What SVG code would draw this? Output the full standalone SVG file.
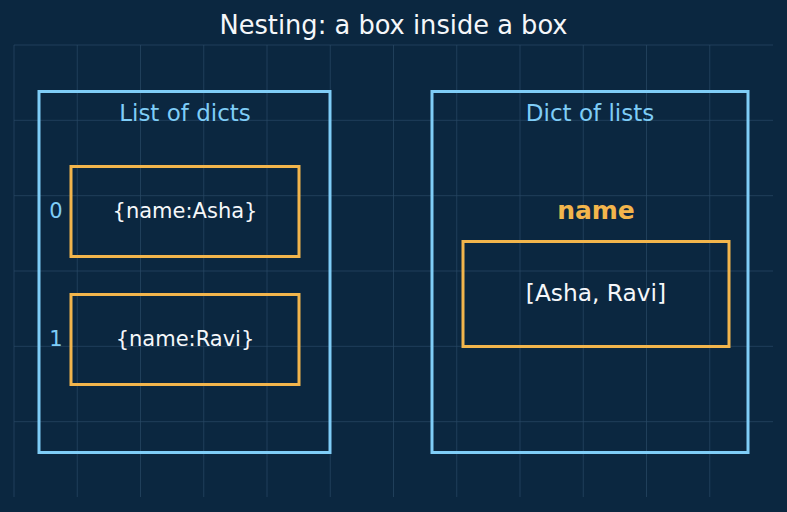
<svg xmlns="http://www.w3.org/2000/svg" width="787" height="512" viewBox="0 0 787 512">
<style>
.grid line{stroke:#2a4a66;stroke-width:1;opacity:0.7}
.outer{fill:none;stroke:#7fcdf7;stroke-width:3}
.inner{fill:none;stroke:#f2b54c;stroke-width:3}
text{font-family:"DejaVu Sans","Liberation Sans",sans-serif;text-anchor:middle}
.title{fill:#f5f7fa;font-size:25.7px}
.hdr{fill:#7fcdf7;font-size:23px}
.idx{fill:#7fcdf7;font-size:21px}
.val{fill:#f5f7fa;font-size:21px}
.key{fill:#f2b54c;font-size:25px;font-weight:bold}
</style>
<rect width="787" height="512" fill="#0b2740"/>
<g class="grid">
<line x1="14" y1="45" x2="14" y2="497"/>
<line x1="77.25" y1="45" x2="77.25" y2="497"/>
<line x1="140.5" y1="45" x2="140.5" y2="497"/>
<line x1="203.75" y1="45" x2="203.75" y2="497"/>
<line x1="267" y1="45" x2="267" y2="497"/>
<line x1="330.25" y1="45" x2="330.25" y2="497"/>
<line x1="393.5" y1="45" x2="393.5" y2="497"/>
<line x1="456.75" y1="45" x2="456.75" y2="497"/>
<line x1="520" y1="45" x2="520" y2="497"/>
<line x1="583.25" y1="45" x2="583.25" y2="497"/>
<line x1="646.5" y1="45" x2="646.5" y2="497"/>
<line x1="709.75" y1="45" x2="709.75" y2="497"/>
<line x1="14" y1="45" x2="773" y2="45"/>
<line x1="14" y1="120.3" x2="773" y2="120.3"/>
<line x1="14" y1="195.7" x2="773" y2="195.7"/>
<line x1="14" y1="271" x2="773" y2="271"/>
<line x1="14" y1="346.3" x2="773" y2="346.3"/>
<line x1="14" y1="421.7" x2="773" y2="421.7"/>
</g>
<text class="title" x="393.5" y="34">Nesting: a box inside a box</text>
<g id="list-of-dicts">
<rect class="outer" x="39" y="91.5" width="291" height="361"/>
<text class="hdr" x="185" y="121">List of dicts</text>
</g>
<g id="item-0">
<rect class="inner" x="71" y="166.5" width="228" height="90"/>
<text class="idx" x="56" y="218">0</text>
<text class="val" x="185" y="218">{name:Asha}</text>
</g>
<g id="item-1">
<rect class="inner" x="71" y="294.5" width="228" height="90"/>
<text class="idx" x="56" y="346">1</text>
<text class="val" x="185" y="346">{name:Ravi}</text>
</g>
<g id="dict-of-lists">
<rect class="outer" x="432" y="91.5" width="316" height="361"/>
<text class="hdr" x="590" y="121">Dict of lists</text>
</g>
<g id="name-list">
<text class="key" x="596" y="219">name</text>
<rect class="inner" x="463" y="241.5" width="266" height="105"/>
<text class="val" x="596" y="301" style="font-size:23.3px">[Asha, Ravi]</text>
</g>
<g id="connectors"/>
</svg>
